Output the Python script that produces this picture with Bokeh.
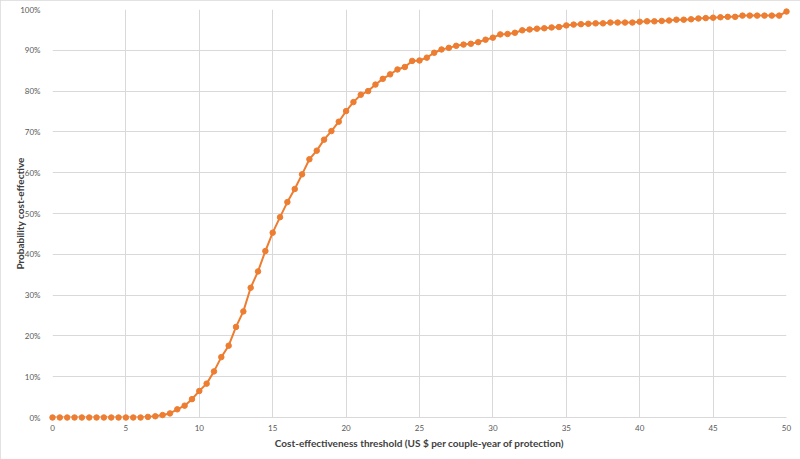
from bokeh.plotting import figure
from bokeh.models import Range1d, FixedTicker, PrintfTickFormatter, ColumnDataSource
from bokeh.embed import file_html
from bokeh.resources import INLINE

# Cost-effectiveness threshold (US $ per couple-year of protection)
threshold = [0, 0.5, 1, 1.5, 2, 2.5, 3, 3.5, 4, 4.5,
             5, 5.5, 6, 6.5, 7, 7.5, 8, 8.5, 9, 9.5,
             10, 10.5, 11, 11.5, 12, 12.5, 13, 13.5, 14, 14.5,
             15, 15.5, 16, 16.5, 17, 17.5, 18, 18.5, 19, 19.5,
             20, 20.5, 21, 21.5, 22, 22.5, 23, 23.5, 24, 24.5,
             25, 25.5, 26, 26.5, 27, 27.5, 28, 28.5, 29, 29.5,
             30, 30.5, 31, 31.5, 32, 32.5, 33, 33.5, 34, 34.5,
             35, 35.5, 36, 36.5, 37, 37.5, 38, 38.5, 39, 39.5,
             40, 40.5, 41, 41.5, 42, 42.5, 43, 43.5, 44, 44.5,
             45, 45.5, 46, 46.5, 47, 47.5, 48, 48.5, 49, 49.5,
             50]

# Probability cost-effective (%)
probability = [0, 0, 0, 0, 0, 0, 0, 0, 0, 0,
               0, 0, 0, 0.15, 0.3, 0.6, 1.0, 2.0, 2.9, 4.5,
               6.5, 8.3, 11.3, 14.8, 17.6, 22.2, 26.0, 31.8, 35.8, 40.8,
               45.3, 49.1, 52.8, 56.0, 59.6, 63.3, 65.4, 68.1, 70.2, 72.5,
               75.1, 77.3, 79.1, 80.0, 81.6, 83.0, 84.1, 85.3, 85.9, 87.4,
               87.5, 88.2, 89.4, 90.2, 90.6, 91.1, 91.4, 91.6, 92.0, 92.6,
               93.1, 93.9, 94.0, 94.3, 94.9, 95.1, 95.3, 95.4, 95.6, 95.7,
               96.1, 96.3, 96.4, 96.5, 96.6, 96.6, 96.8, 96.8, 96.8, 96.8,
               97.0, 97.1, 97.1, 97.2, 97.3, 97.5, 97.5, 97.6, 97.8, 97.9,
               98.0, 98.1, 98.2, 98.2, 98.5, 98.5, 98.5, 98.5, 98.5, 98.5,
               99.5]

x_ticks = [0, 5, 10, 15, 20, 25, 30, 35, 40, 45, 50]
y_ticks = [0, 10, 20, 30, 40, 50, 60, 70, 80, 90, 100]

x_title = "Cost-effectiveness threshold (US $ per couple-year of protection)"
y_title = "Probability cost-effective"

ORANGE = "#ED7D31"
GRID = "#d9d9d9"
FONT = "Lato"

src = ColumnDataSource(dict(x=threshold, y=probability))

p = figure(width=800, height=459, output_backend="svg", toolbar_location=None,
           x_range=Range1d(0, 50), y_range=Range1d(0, 100),
           min_border_left=52, min_border_right=14, min_border_top=9,
           min_border_bottom=42)
p.styles = {"outline": "1px solid #d9d9d9", "outline-offset": "-1px"}
p.outline_line_color = None
p.background_fill_color = "white"
p.border_fill_color = "white"

p.line("x", "y", source=src, line_color=ORANGE, line_width=2)
p.scatter("x", "y", source=src, size=5.5, fill_color=ORANGE, line_color=ORANGE,
          level="overlay")

p.xaxis.ticker = FixedTicker(ticks=x_ticks)
p.yaxis.ticker = FixedTicker(ticks=y_ticks)
p.yaxis.formatter = PrintfTickFormatter(format="%d%%")

for ax in (p.xaxis, p.yaxis):
    ax.major_tick_line_color = None
    ax.minor_tick_line_color = None
    ax.major_label_text_font = FONT
    ax.major_label_text_font_size = "8px"
    ax.major_label_text_color = "#595959"
    ax.axis_label_text_font = FONT
    ax.axis_label_text_font_size = "10px"
    ax.axis_label_text_font_style = "bold"
    ax.axis_label_text_color = "#404040"

p.xaxis.axis_line_color = GRID
p.yaxis.axis_line_color = None
p.xaxis.axis_label = x_title
p.yaxis.axis_label = y_title
p.xaxis.major_label_standoff = 1
p.xaxis.axis_label_standoff = 3
p.yaxis.major_label_standoff = 6
p.yaxis.axis_label_standoff = -9

p.xgrid.ticker = FixedTicker(ticks=x_ticks)
p.ygrid.ticker = FixedTicker(ticks=y_ticks)
p.xgrid.grid_line_color = GRID
p.ygrid.grid_line_color = GRID
p.xgrid.grid_line_width = 1
p.ygrid.grid_line_width = 1

open("out.html", "w").write(file_html(p, INLINE))
